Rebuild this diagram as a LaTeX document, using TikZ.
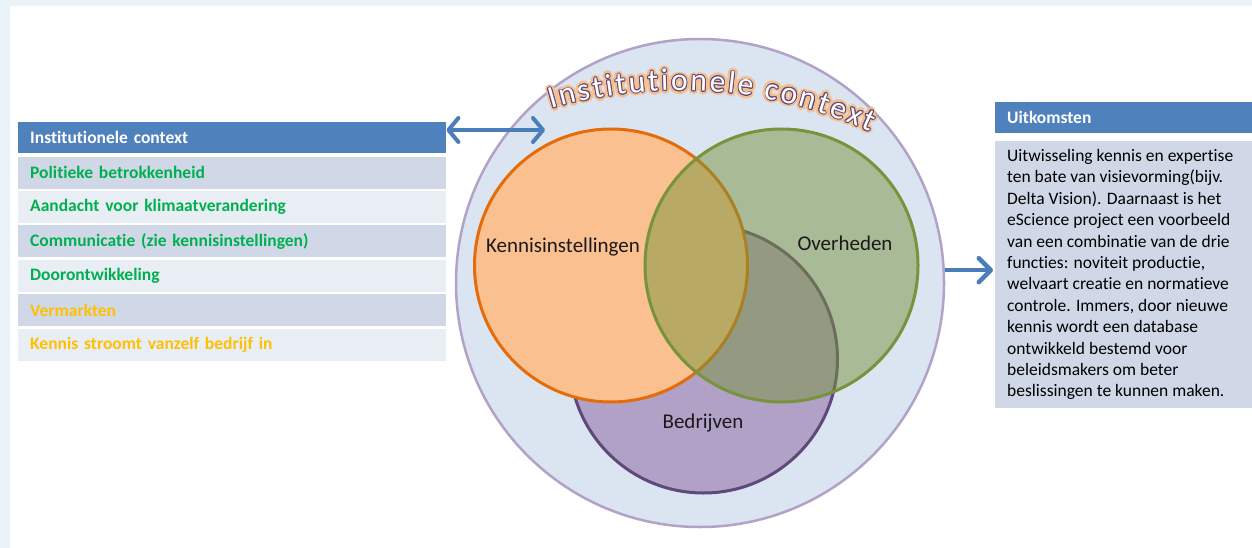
\documentclass[tikz,border=0pt]{standalone}
\usepackage{fontspec}
\setmainfont{Carlito}[Ligatures=NoCommon]
\usetikzlibrary{arrows.meta,decorations.text,calc}

\definecolor{pagetint}{HTML}{EAF3F7}
\definecolor{hdrblue}{HTML}{4F81BD}
\definecolor{rowdark}{HTML}{D0D8E8}
\definecolor{rowlight}{HTML}{E9EDF4}
\definecolor{itemgreen}{HTML}{00B050}
\definecolor{itemgold}{HTML}{FFC000}
\definecolor{arrowblue}{HTML}{4A7EBB}
\definecolor{ctxfill}{HTML}{DBE5F1}
\definecolor{ctxline}{HTML}{B3A2C7}
\definecolor{kifill}{HTML}{FAC090}
\definecolor{kiline}{HTML}{E46C0A}
\definecolor{ovcol}{HTML}{77933C}
\definecolor{bdfill}{HTML}{B2A1C7}
\definecolor{bdline}{HTML}{5F497A}
\definecolor{glowcol}{HTML}{F5BE8C}
\definecolor{labelink}{HTML}{1A1A1A}

\tikzset{
  hdr/.style={fill=hdrblue, text=white, inner xsep=12pt, inner ysep=0pt,
    minimum height=31pt, anchor=north west, align=left,
    font=\bfseries\fontsize{17.5}{20}\selectfont},
  row/.style={inner xsep=12pt, inner ysep=0pt, text width=404pt,
    minimum height=32pt, anchor=north west, align=left,
    font=\bfseries\fontsize{17.5}{20}\selectfont},
  venn/.style={circle, inner sep=0pt, line width=3pt},
  vlabel/.style={text=labelink, font=\fontsize{21}{24}\selectfont},
  arctext/.style={decorate, decoration={text along path,
    text={|\fontsize{31.5}{31.5}\selectfont|Institutionele context},
    text align=fit to path, text color=#1}},
  bluearrow/.style={draw=arrowblue, line width=4.5pt},
}

\begin{document}
\begin{tikzpicture}[x=1pt,y=1pt]
\useasboundingbox (0,0) rectangle (1252,-548);
% page frame
\fill[pagetint] (0,0) rectangle (1252,-548);
\fill[white] (10,-6) rectangle (1252,-548);

% left list
\node[hdr, text width=404pt] (lefthead) at (18,-122) {Institutionele context};
\node[row, fill=rowdark, text=itemgreen] (r1) at ([yshift=-3pt]lefthead.south west) {Politieke betrokkenheid};
\node[row, fill=rowlight, text=itemgreen] (r2) at ([yshift=-2pt]r1.south west) {Aandacht voor klimaatverandering};
\node[row, fill=rowdark, text=itemgreen] (r3) at ([yshift=-2pt]r2.south west) {Communicatie (zie kennisinstellingen)};
\node[row, fill=rowlight, text=itemgreen] (r4) at ([yshift=-2pt]r3.south west) {Doorontwikkeling};
\node[row, fill=rowdark, text=itemgold] (r5) at ([yshift=-2pt]r4.south west) {Vermarkten};
\node[row, fill=rowlight, text=itemgold] (r6) at ([yshift=-2pt]r5.south west) {Kennis stroomt vanzelf bedrijf in};

% context circle and the three actors
\node[venn, minimum size=488pt, fill=ctxfill, draw=ctxline, line width=2.5pt] (ctx) at (700,-283) {};
\node[venn, minimum size=268pt, fill=bdfill, draw=bdline] (bd) at (703.5,-359) {};
\node[venn, minimum size=273pt, fill=kifill, draw=kiline] (ki) at (611,-265.5) {};
\node[venn, minimum size=273pt, fill=ovcol, fill opacity=0.5, draw=ovcol] (ov) at (781.5,-265.5) {};

\node[vlabel] (kil) at (563,-247) {Kennisinstellingen};
\node[vlabel] (ovl) at (845,-243) {Overheden};
\node[vlabel] (bdl) at (703,-423) {Bedrijven};

% arched title: soft glow, dark outline, white letters
\foreach \a in {0,45,...,315} {
  \path[arctext=glowcol, shift={(\a:3.5pt)}, opacity=0.12] (551.5,-108.8) arc[start angle=106.2, end angle=65.6, radius=460];
  \path[arctext=glowcol, shift={(\a+22.5:2.2pt)}, opacity=0.16] (551.5,-108.8) arc[start angle=106.2, end angle=65.6, radius=460];
}
\foreach \a in {0,30,...,330} {
  \path[arctext=bdline, shift={(\a:0.9pt)}] (551.5,-108.8) arc[start angle=106.2, end angle=65.6, radius=460];
}
\path[arctext=white] (551.5,-108.8) arc[start angle=106.2, end angle=65.6, radius=460];

% outcome panel
\node[hdr, text width=233pt] (outhead) at (995,-102) {Uitkomsten};
\node[fill=rowdark, minimum width=257pt, minimum height=267pt, inner sep=0pt, anchor=north west] (outbody) at (995,-141) {};
\node[anchor=west, align=left, inner sep=0pt, text=black, font=\fontsize{17.5}{21.4}\selectfont] (outtext) at ([xshift=12pt]outbody.west)
{Uitwisseling kennis en expertise\\
ten bate van visievorming(bijv.\\
Delta Vision). Daarnaast is het\\
eScience project een voorbeeld\\
van een combinatie van de drie\\
functies: noviteit productie,\\
welvaart creatie en normatieve\\
controle. Immers, door nieuwe\\
kennis wordt een database\\
ontwikkeld bestemd voor\\
beleidsmakers om beter\\
beslissingen te kunnen maken.};

% connectors
\coordinate (ctxin) at (545,-130);
\draw[bluearrow, line width=4pt, {Straight Barb[length=10pt,width=24pt,round]}-{Straight Barb[length=10pt,width=24pt,round]}]
  (lefthead.east |- ctxin) -- (ctxin);
\draw[bluearrow, -{Straight Barb[length=12pt,width=24pt,round]}]
  (ctx.3.3) -- ([xshift=-2pt]ctx.3.3 -| outbody.west);
\end{tikzpicture}
\end{document}
